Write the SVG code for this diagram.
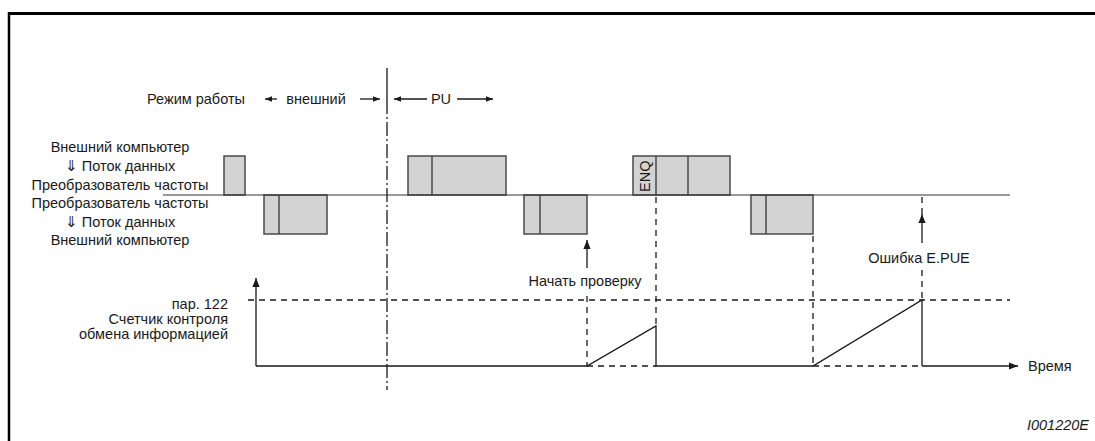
<svg xmlns="http://www.w3.org/2000/svg" width="1095" height="441" viewBox="0 0 1095 441">
<style>
text{font-family:"Liberation Sans",Arial,sans-serif;font-size:14.5px;fill:#1a1a1a}
.box{fill:#d3d3d3;stroke:#4a4a4a;stroke-width:1.5}
.ln{stroke:#1a1a1a;stroke-width:1.3;fill:none}
.dash{stroke:#1a1a1a;stroke-width:1.3;fill:none;stroke-dasharray:6 5}
.dd{stroke:#1a1a1a;stroke-width:1.3;fill:none;stroke-dasharray:14 3 2 3}
</style>
<defs>
<marker id="ah" viewBox="0 0 10 10" refX="10" refY="5" markerWidth="9" markerHeight="9" markerUnits="userSpaceOnUse" orient="auto"><path d="M0,1L10,5L0,9z" fill="#1a1a1a"/></marker>
<marker id="ahs" viewBox="0 0 10 10" refX="10" refY="5" markerWidth="7" markerHeight="7" markerUnits="userSpaceOnUse" orient="auto"><path d="M0,1L10,5L0,9z" fill="#1a1a1a"/></marker>
</defs>
<g id="frame">
<line x1="8" y1="13.5" x2="1095" y2="13.5" stroke="#000" stroke-width="3"/>
<line x1="9" y1="12" x2="9" y2="441" stroke="#000" stroke-width="2.5"/>
</g>
<g id="labels">
<text x="196" y="104" text-anchor="middle">Режим работы</text>
<text x="120" y="152" text-anchor="middle">Внешний компьютер</text>
<text x="120" y="171" text-anchor="middle">⇓ Поток данных</text>
<text x="120" y="190" text-anchor="middle">Преобразователь частоты</text>
<text x="120" y="208" text-anchor="middle">Преобразователь частоты</text>
<text x="120" y="227" text-anchor="middle">⇓ Поток данных</text>
<text x="120" y="245" text-anchor="middle">Внешний компьютер</text>
<text x="228" y="309" text-anchor="end">пар. 122</text>
<text x="228" y="324" text-anchor="end">Счетчик контроля</text>
<text x="228" y="339" text-anchor="end">обмена информацией</text>
<text x="1028" y="371" font-size="15">Время</text>
<text x="1089" y="430" text-anchor="end" font-style="italic">I001220E</text>
</g>
<g id="mode">
<line class="ln" x1="277" y1="99" x2="265" y2="99" marker-end="url(#ahs)"/>
<text x="316" y="104" text-anchor="middle">внешний</text>
<line class="ln" x1="360" y1="99" x2="380" y2="99" marker-end="url(#ahs)"/>
<line class="ln" x1="427" y1="99" x2="394" y2="99" marker-end="url(#ahs)"/>
<text x="441" y="104" text-anchor="middle">PU</text>
<line class="ln" x1="457" y1="99" x2="493" y2="99" marker-end="url(#ahs)"/>
</g>
<g id="boxes">
<rect class="box" x="224" y="156" width="21" height="39"/>
<rect class="box" x="264" y="195" width="63" height="39"/>
<line class="box" x1="279" y1="195" x2="279" y2="234"/>
<rect class="box" x="408" y="156" width="98" height="39"/>
<line class="box" x1="432" y1="156" x2="432" y2="195"/>
<rect class="box" x="524" y="195" width="63" height="39"/>
<line class="box" x1="540" y1="195" x2="540" y2="234"/>
<rect class="box" x="633" y="156" width="97" height="39"/>
<line class="box" x1="656" y1="156" x2="656" y2="195"/>
<line class="box" x1="688" y1="156" x2="688" y2="195"/>
<text x="650" y="192" font-size="14" transform="rotate(-90 650 192)">ENQ</text>
<rect class="box" x="751" y="195" width="62" height="39"/>
<line class="box" x1="766" y1="195" x2="766" y2="234"/>
</g>
<g id="connectors">
<line x1="163" y1="195" x2="1010" y2="195" stroke="#333" stroke-width="1.2"/>
<line class="ln" x1="387" y1="68" x2="387" y2="100"/>
<line class="dd" x1="387" y1="100" x2="387" y2="390"/>
<line class="ln" x1="587" y1="268" x2="587" y2="240" marker-end="url(#ah)"/>
<text x="585" y="286" text-anchor="middle">Начать проверку</text>
<line class="dash" x1="587" y1="296" x2="587" y2="366"/>
<line class="dash" x1="656" y1="197" x2="656" y2="326"/>
<line class="dash" x1="813" y1="236" x2="813" y2="366"/>
<line class="dash" x1="922" y1="197" x2="922" y2="214"/>
<line class="ln" x1="922" y1="243" x2="922" y2="214" marker-end="url(#ah)"/>
<text x="919" y="263" text-anchor="middle">Ошибка E.PUE</text>
<line class="dash" x1="922" y1="270" x2="922" y2="300"/>
<line class="dash" x1="248" y1="300" x2="1010" y2="300"/>
<line class="ln" x1="256" y1="366" x2="256" y2="278" marker-end="url(#ah)"/>
<polyline class="ln" points="256,366 587,366 656,326 656,366 813,366 922,300 922,366"/>
<line class="dash" x1="587" y1="366" x2="656" y2="366"/>
<line class="dash" x1="813" y1="366" x2="922" y2="366"/>
<line class="ln" x1="922" y1="366" x2="1018" y2="366" marker-end="url(#ah)"/>
</g>
</svg>
